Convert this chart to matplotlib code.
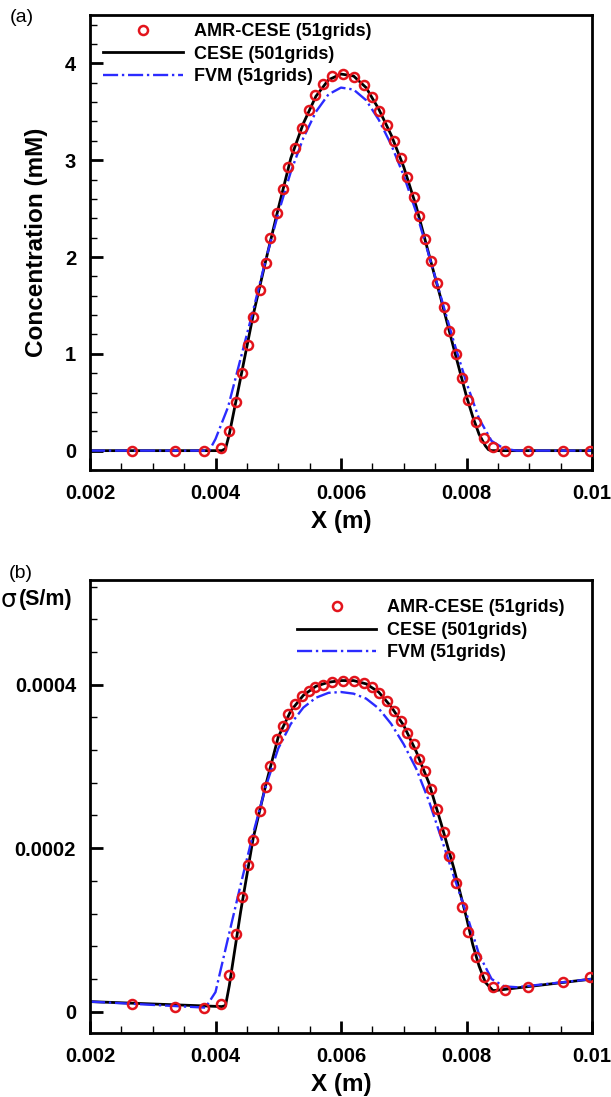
"""Concentration and conductivity profiles: AMR-CESE vs CESE vs FVM."""

import matplotlib

matplotlib.use("Agg")
import matplotlib.pyplot as plt
from matplotlib.ticker import MultipleLocator

plt.rcParams["font.family"] = ["Liberation Sans", "DejaVu Sans"]

# AMR-CESE (51 grids) node positions, shared by both panels
amr_x = [0.00267, 0.00335, 0.00382, 0.00408, 0.00422, 0.004327, 0.004417, 0.004523,
         0.004593, 0.004709, 0.0048, 0.004869, 0.004985, 0.005071, 0.00516, 0.005267,
         0.005374, 0.005495, 0.005586, 0.005708, 0.005852, 0.006037, 0.006207, 0.006367,
         0.006489, 0.006611, 0.006729, 0.006845, 0.006952, 0.007057, 0.007164, 0.007249,
         0.00734, 0.00743, 0.007536, 0.007642, 0.007727, 0.007834, 0.007924, 0.00803,
         0.008153, 0.00828, 0.008427, 0.00862, 0.00898, 0.00954, 0.00997]
amr_conc = [0.0, 0.0, 0.0, 0.025, 0.20, 0.50, 0.80, 1.09,
            1.38, 1.66, 1.94, 2.20, 2.45, 2.70, 2.93, 3.13,
            3.33, 3.52, 3.67, 3.79, 3.87, 3.89, 3.86, 3.78,
            3.65, 3.51, 3.36, 3.20, 3.02, 2.83, 2.62, 2.42,
            2.19, 1.96, 1.73, 1.48, 1.24, 1.00, 0.75, 0.52,
            0.30, 0.13, 0.04, 0.0, 0.0, 0.0, 0.0]
amr_sigma = [9.1e-6, 6.2e-6, 4.9e-6, 9.5e-6, 4.5e-5, 9.5e-5, 1.40e-4, 1.80e-4,
             2.10e-4, 2.45e-4, 2.75e-4, 3.00e-4, 3.34e-4, 3.50e-4, 3.64e-4, 3.76e-4,
             3.86e-4, 3.92e-4, 3.97e-4, 4.00e-4, 4.03e-4, 4.05e-4, 4.05e-4, 4.02e-4,
             3.97e-4, 3.90e-4, 3.80e-4, 3.68e-4, 3.56e-4, 3.41e-4, 3.27e-4, 3.09e-4,
             2.95e-4, 2.72e-4, 2.48e-4, 2.20e-4, 1.90e-4, 1.58e-4, 1.28e-4, 9.8e-5,
             6.7e-5, 4.2e-5, 3.0e-5, 2.6e-5, 3.0e-5, 3.6e-5, 4.2e-5]

# CESE (501 grids) reference
cese_x = [0.002, 0.0041, 0.00416, 0.00422, 0.0044, 0.0046, 0.0048, 0.005, 0.0052,
          0.0054, 0.0056, 0.0058, 0.006, 0.0062, 0.0064, 0.0066, 0.0068, 0.007,
          0.0072, 0.0074, 0.0076, 0.0078, 0.008, 0.0081, 0.0082, 0.0083, 0.00835,
          0.0084, 0.01]
cese_conc = [0.0, 0.0, 0.02, 0.17, 0.75, 1.40, 1.96, 2.50, 3.02,
             3.38, 3.66, 3.83, 3.89, 3.87, 3.75, 3.53, 3.26, 2.93,
             2.52, 2.03, 1.55, 1.05, 0.56, 0.35, 0.17, 0.05, 0.01,
             0.0, 0.0]

cese_sx = [0.002, 0.0041, 0.00416, 0.00422, 0.0044, 0.0046, 0.0048, 0.005, 0.0052,
           0.0054, 0.0056, 0.0058, 0.006, 0.0062, 0.0064, 0.0066, 0.0068, 0.007,
           0.0072, 0.0074, 0.0076, 0.0078, 0.008, 0.0081, 0.0082, 0.0083, 0.00842,
           0.00846, 0.01]
cese_sigma = [1.24e-5, 6.3e-6, 7.5e-6, 3.2e-5, 1.22e-4, 2.12e-4, 2.77e-4, 3.36e-4, 3.68e-4,
              3.87e-4, 3.98e-4, 4.03e-4, 4.05e-4, 4.05e-4, 4.01e-4, 3.91e-4, 3.73e-4, 3.50e-4,
              3.18e-4, 2.80e-4, 2.29e-4, 1.75e-4, 1.15e-4, 8.2e-5, 5.6e-5, 3.6e-5, 2.6e-5,
              2.6e-5, 4.0e-5]

# FVM (51 grids)
fvm_x = [0.002, 0.0039, 0.004, 0.0042, 0.0044, 0.0046, 0.0048, 0.005, 0.0052,
         0.0054, 0.0056, 0.0058, 0.006, 0.0062, 0.0064, 0.0066, 0.0068, 0.007,
         0.0072, 0.0074, 0.0076, 0.0078, 0.008, 0.0082, 0.0084, 0.0086, 0.0088, 0.01]
fvm_conc = [0.0, 0.0, 0.12, 0.45, 0.95, 1.45, 1.97, 2.45, 2.88,
            3.23, 3.50, 3.68, 3.75, 3.73, 3.62, 3.42, 3.16, 2.84,
            2.46, 2.02, 1.57, 1.12, 0.70, 0.33, 0.10, 0.02, 0.0, 0.0]

fvm_sx = [0.002, 0.00384, 0.004, 0.0042, 0.0044, 0.0046, 0.0048, 0.005, 0.0052,
          0.0054, 0.0056, 0.0058, 0.006, 0.0062, 0.0064, 0.0066, 0.0068, 0.007,
          0.0072, 0.0074, 0.0076, 0.0078, 0.008, 0.0082, 0.0084, 0.0086, 0.0088, 0.01]
fvm_sigma = [1.24e-5, 5.0e-6, 2.4e-5, 9.0e-5, 1.55e-4, 2.18e-4, 2.75e-4, 3.22e-4, 3.52e-4,
             3.72e-4, 3.84e-4, 3.90e-4, 3.91e-4, 3.89e-4, 3.83e-4, 3.71e-4, 3.52e-4, 3.27e-4,
             2.97e-4, 2.58e-4, 2.12e-4, 1.65e-4, 1.20e-4, 7.0e-5, 4.0e-5, 3.1e-5, 3.0e-5, 4.0e-5]

labels = ["AMR-CESE (51grids)", "CESE (501grids)", "FVM (51grids)"]
RED = "#e3141c"
BLUE = "#2b2bff"
TICK_FS = 14.5
LABEL_FS = 17.5
LEG_FS = 13


def style_axes(ax, ymajor, yminor):
    for sp in ax.spines.values():
        sp.set_linewidth(2.0)
    ax.xaxis.set_minor_locator(MultipleLocator(0.0005))
    ax.yaxis.set_minor_locator(MultipleLocator(yminor))
    ax.tick_params(which="major", direction="in", length=9, width=2,
                   labelsize=TICK_FS, pad=10)
    ax.tick_params(which="minor", direction="in", length=5, width=1)
    ax.tick_params(top=False, right=False, which="both")
    ax.set_xlim(0.002, 0.01)
    ax.set_xticks([0.002, 0.004, 0.006, 0.008, 0.01])
    ax.set_xticklabels(["0.002", "0.004", "0.006", "0.008", "0.01"], fontweight="bold")
    ax.set_xlabel("X (m)", fontsize=LABEL_FS, fontweight="bold", labelpad=5)


def draw(ax, ys, cx, cy, fx, fy):
    ax.plot(amr_x, ys, "o", ms=6.5, mfc="none", mec=RED, mew=1.8, label=labels[0], zorder=3)
    ax.plot(cx, cy, "-", color="black", lw=2.0, label=labels[1], zorder=2)
    ax.plot(fx, fy, "-.", color=BLUE, lw=1.7, label=labels[2], zorder=2)


def add_legend(ax, anchor):
    ax.legend(loc="upper left", bbox_to_anchor=anchor, frameon=False,
              prop={"weight": "bold", "size": LEG_FS}, handlelength=4.4,
              handletextpad=0.6, labelspacing=0.3, borderaxespad=0.0)


fig = plt.figure(figsize=(6.11, 10.97), dpi=100)

ax1 = fig.add_axes([90 / 611, 1 - 470 / 1097, 502 / 611, 455 / 1097])
draw(ax1, amr_conc, cese_x, cese_conc, fvm_x, fvm_conc)
ax1.set_ylim(-0.2, 4.5)
style_axes(ax1, 1, 0.2)
ax1.set_yticks([0, 1, 2, 3, 4])
ax1.set_yticklabels(["0", "1", "2", "3", "4"], fontweight="bold")
ax1.set_ylabel("Concentration (mM)", fontsize=LABEL_FS, fontweight="bold", labelpad=12)
add_legend(ax1, (0.012, 0.998))
fig.text(10 / 611, 1 - 17 / 1097, "(a)", fontsize=14, va="center", ha="left")

ax2 = fig.add_axes([90 / 611, 1 - 1033 / 1097, 502 / 611, 453 / 1097])
draw(ax2, amr_sigma, cese_sx, cese_sigma, fvm_sx, fvm_sigma)
ax2.set_ylim(-0.000026, 0.000528)
style_axes(ax2, 0.0002, 0.00004)
ax2.set_yticks([0, 0.0002, 0.0004])
ax2.set_yticklabels(["0", "0.0002", "0.0004"], fontweight="bold")
add_legend(ax2, (0.398, 0.973))
fig.text(9 / 611, 1 - 573 / 1097, "(b)", fontsize=14, va="center", ha="left")
fig.text(1 / 611, 1 - 600 / 1097, "\u03c3", fontsize=18, va="center", ha="left",
         family=["DejaVu Sans"])
fig.text(19 / 611, 1 - 600 / 1097, "(S/m)", fontsize=15.5, va="center", ha="left",
         fontweight="bold")

fig.savefig("out.png", dpi=100)
